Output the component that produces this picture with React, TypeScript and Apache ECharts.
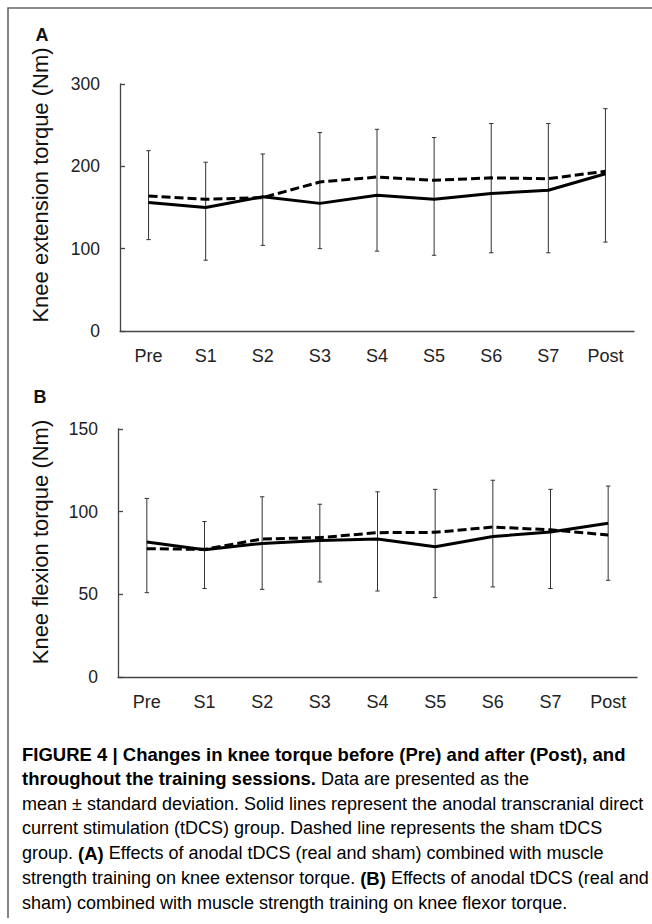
import React, { useEffect, useRef } from "react";
import * as echarts from "echarts";

const categories = ["Pre", "S1", "S2", "S3", "S4", "S5", "S6", "S7", "Post"];

// Panel A: knee extension torque (Nm)
const extReal = [156, 150, 163, 155, 165, 160, 167, 171, 191];
const extSham = [164, 160, 162, 181, 187, 183, 186, 185, 194];
const extErrHigh = [219, 205, 215, 241, 245, 235, 252, 252, 270];
const extErrLow = [111, 86, 104, 100, 97, 92, 95, 95, 108];

// Panel B: knee flexion torque (Nm)
const flexReal = [81.7, 77, 80.8, 82.5, 83.5, 78.8, 85, 87.7, 93];
const flexSham = [77.6, 77.2, 83.5, 84.3, 87.3, 87.5, 90.7, 89, 85.9];
const flexErrHigh = [108, 94, 109, 104.5, 112, 113.5, 119, 113.5, 115.5];
const flexErrLow = [51, 53.5, 53, 57.5, 52, 48, 54.5, 53.5, 58.5];

const extTicks = { min: 0, max: 300, interval: 100 };
const flexTicks = { min: 0, max: 150, interval: 50 };

const FONT = "'Liberation Sans', Arial, Helvetica, sans-serif";

const captionLines: { parts: { t: string; b?: boolean }[] }[] = [
  { parts: [{ t: "FIGURE 4 | Changes in knee torque before (Pre) and after (Post), and", b: true }] },
  { parts: [{ t: "throughout the training sessions.", b: true }, { t: " Data are presented as the" }] },
  { parts: [{ t: "mean \u00b1 standard deviation. Solid lines represent the anodal transcranial direct" }] },
  { parts: [{ t: "current stimulation (tDCS) group. Dashed line represents the sham tDCS" }] },
  { parts: [{ t: "group. " }, { t: "(A)", b: true }, { t: " Effects of anodal tDCS (real and sham) combined with muscle" }] },
  { parts: [{ t: "strength training on knee extensor torque. " }, { t: "(B)", b: true }, { t: " Effects of anodal tDCS (real and" }] },
  { parts: [{ t: "sham) combined with muscle strength training on knee flexor torque." }] },
];

function errorRender(params: any, api: any) {
  const i = api.value(0);
  const lo = api.coord([i, api.value(1)]);
  const hi = api.coord([i, api.value(2)]);
  const cw = 2.2;
  const st = { stroke: "#333", lineWidth: 1 };
  return {
    type: "group",
    children: [
      { type: "line", shape: { x1: lo[0], y1: lo[1], x2: hi[0], y2: hi[1] }, style: st },
      { type: "line", shape: { x1: lo[0] - cw, y1: lo[1], x2: lo[0] + cw, y2: lo[1] }, style: st },
      { type: "line", shape: { x1: hi[0] - cw, y1: hi[1], x2: hi[0] + cw, y2: hi[1] }, style: st },
    ],
  };
}

export default function App() {
  const ref = useRef<HTMLDivElement>(null);

  useEffect(() => {
    if (!ref.current) return;
    const chart = echarts.init(ref.current, null, { renderer: "svg" });

    const xAxisCommon = {
      type: "category" as const,
      data: categories,
      boundaryGap: true,
      axisLine: { lineStyle: { color: "#444", width: 1.3 } },
      axisTick: { show: false },
      axisLabel: { color: "#222", fontSize: 18, fontFamily: FONT, margin: 16 },
      splitLine: { show: false },
    };
    const yAxisCommon = {
      type: "value" as const,
      axisLine: { show: true, lineStyle: { color: "#444", width: 1.3 } },
      axisTick: { show: true, inside: true, length: 5, lineStyle: { color: "#444", width: 1.3 } },
      axisLabel: { color: "#222", fontSize: 17.5, fontFamily: FONT, margin: 20 },
      splitLine: { show: false },
    };

    const rich = {
      r: { fontFamily: FONT, fontSize: 18, color: "#333", fontWeight: "normal" },
      b: { fontFamily: FONT, fontSize: 18.5, color: "#222", fontWeight: "bold" },
    };

    const captionGraphics = captionLines.map((ln, k) => ({
      type: "text",
      x: 22,
      y: 754 + k * 24.8,
      style: {
        text: ln.parts.map((p) => `{${p.b ? "b" : "r"}|${p.t}}`).join(""),
        rich,
        verticalAlign: "middle",
        align: "left",
      },
    }));

    chart.setOption({
      animation: false,
      backgroundColor: "#ffffff",
      grid: [
        { left: 120, right: 18, top: 84, bottom: 924 - 331, containLabel: false },
        { left: 118, right: 15, top: 429, bottom: 924 - 677, containLabel: false },
      ],
      xAxis: [
        { ...xAxisCommon, gridIndex: 0 },
        { ...xAxisCommon, gridIndex: 1 },
      ],
      yAxis: [
        { ...yAxisCommon, gridIndex: 0, ...extTicks },
        { ...yAxisCommon, gridIndex: 1, ...flexTicks },
      ],
      series: [
        {
          type: "custom",
          xAxisIndex: 0,
          yAxisIndex: 0,
          renderItem: errorRender,
          encode: { x: 0, y: [1, 2] },
          data: categories.map((_, i) => [i, extErrLow[i], extErrHigh[i]]),
          z: 1,
        },
        {
          type: "line",
          xAxisIndex: 0,
          yAxisIndex: 0,
          data: extReal,
          symbol: "none",
          lineStyle: { color: "#000", width: 3 },
          z: 3,
        },
        {
          type: "line",
          xAxisIndex: 0,
          yAxisIndex: 0,
          data: extSham,
          symbol: "none",
          lineStyle: { color: "#000", width: 3, type: [9, 4] },
          z: 2,
        },
        {
          type: "custom",
          xAxisIndex: 1,
          yAxisIndex: 1,
          renderItem: errorRender,
          encode: { x: 0, y: [1, 2] },
          data: categories.map((_, i) => [i, flexErrLow[i], flexErrHigh[i]]),
          z: 1,
        },
        {
          type: "line",
          xAxisIndex: 1,
          yAxisIndex: 1,
          data: flexReal,
          symbol: "none",
          lineStyle: { color: "#000", width: 3 },
          z: 3,
        },
        {
          type: "line",
          xAxisIndex: 1,
          yAxisIndex: 1,
          data: flexSham,
          symbol: "none",
          lineStyle: { color: "#000", width: 3, type: [9, 4] },
          z: 2,
        },
      ],
      graphic: [
        {
          type: "polyline",
          shape: { points: [[652, 8], [8, 8], [8, 918]] },
          style: { stroke: "#666", lineWidth: 1.6, fill: null },
          silent: true,
        },
        {
          type: "text",
          x: 42,
          y: 35,
          style: { text: "A", fontFamily: FONT, fontSize: 18, fontWeight: "bold", fill: "#111", align: "center", verticalAlign: "middle" },
        },
        {
          type: "text",
          x: 40,
          y: 397,
          style: { text: "B", fontFamily: FONT, fontSize: 18, fontWeight: "bold", fill: "#111", align: "center", verticalAlign: "middle" },
        },
        {
          type: "text",
          x: 40,
          y: 185,
          rotation: Math.PI / 2,
          style: { text: "Knee extension torque (Nm)", fontFamily: FONT, fontSize: 22, fill: "#111", align: "center", verticalAlign: "middle" },
        },
        {
          type: "text",
          x: 40,
          y: 542,
          rotation: Math.PI / 2,
          style: { text: "Knee flexion torque (Nm)", fontFamily: FONT, fontSize: 22, fill: "#111", align: "center", verticalAlign: "middle" },
        },
        ...captionGraphics,
      ],
    });

    return () => chart.dispose();
  }, []);

  return (
    <div
      ref={ref}
      style={{ position: "absolute", left: 0, top: 0, width: 652, height: 924, background: "#fff" }}
    />
  );
}
